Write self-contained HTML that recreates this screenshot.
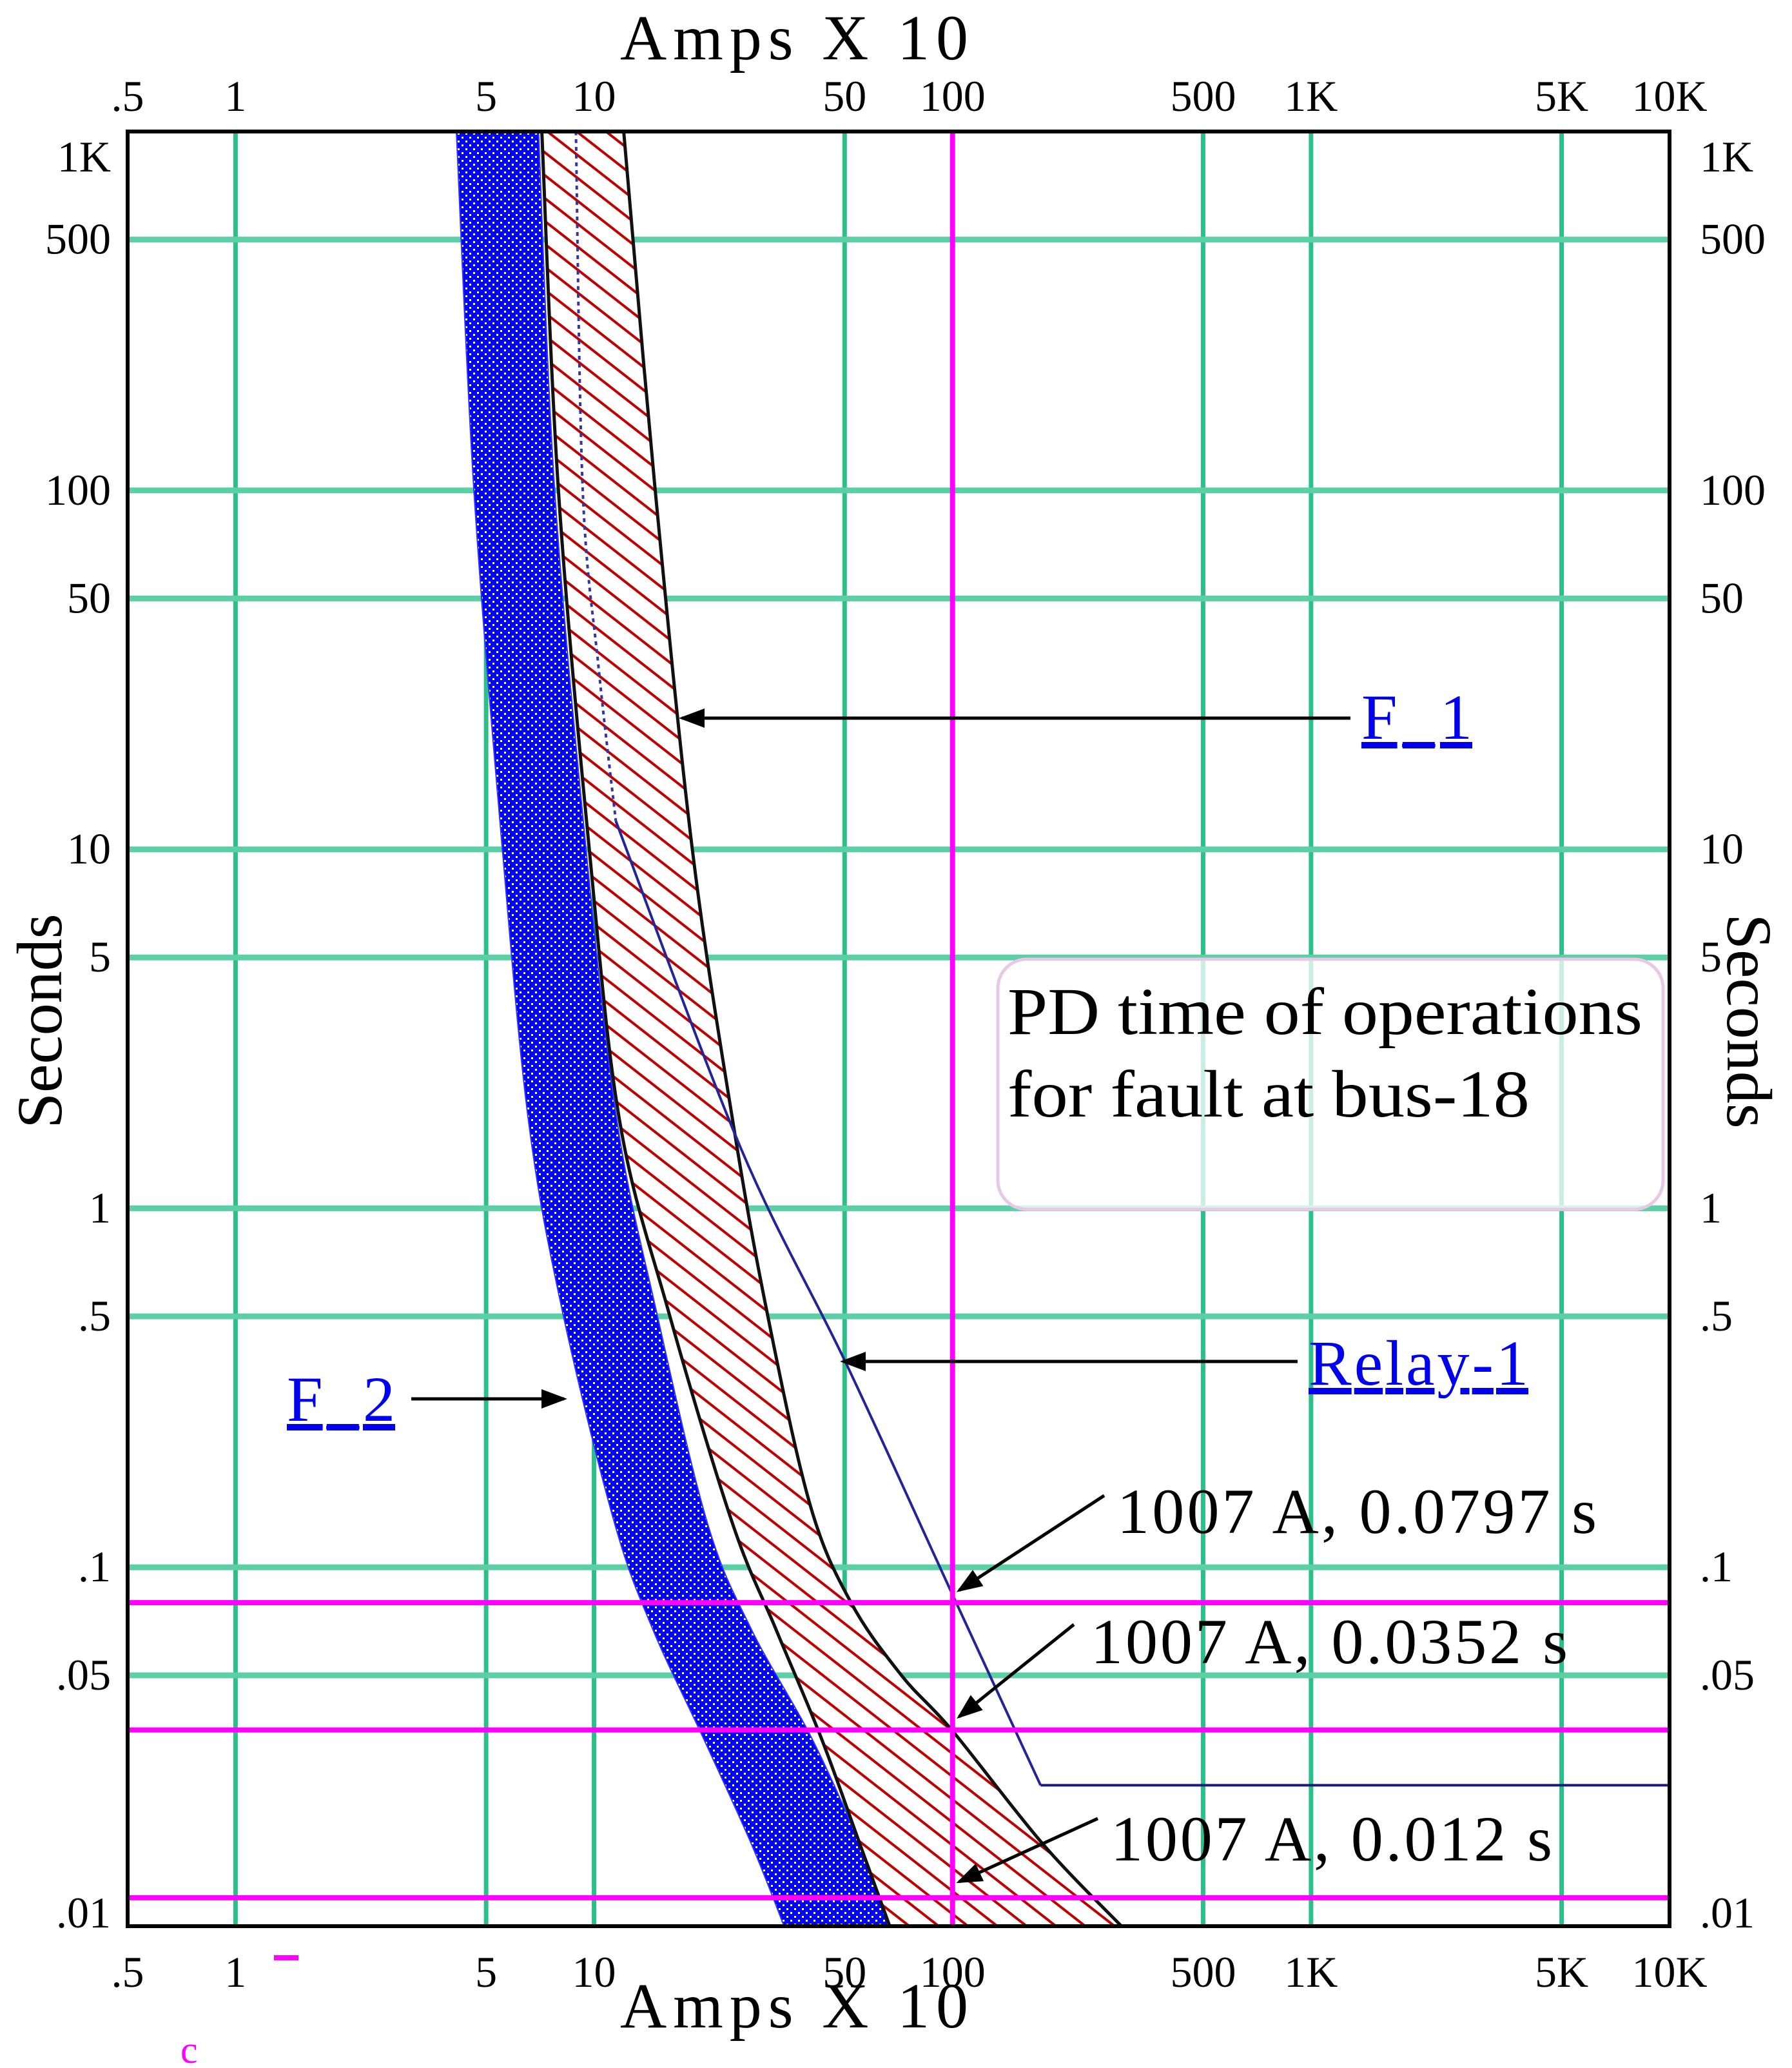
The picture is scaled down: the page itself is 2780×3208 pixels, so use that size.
<!DOCTYPE html>
<html><head><meta charset="utf-8"><style>
html,body{margin:0;padding:0;background:#fff;}
svg{display:block;}
text{font-family:"Liberation Serif",serif;}
</style></head><body>
<svg id="chart" width="2780" height="3208" viewBox="0 0 2780 3208" xmlns="http://www.w3.org/2000/svg">
<defs>
<pattern id="blueDots" width="12" height="12" patternUnits="userSpaceOnUse">
<rect width="12" height="12" fill="#0000ff"/>
<rect x="2" y="2" width="3" height="3" fill="#fff"/>
<rect x="8" y="8" width="3" height="3" fill="#fff"/>
</pattern>
<pattern id="redHatch" width="28" height="28" patternUnits="userSpaceOnUse" patternTransform="rotate(38)">
<rect width="28" height="28" fill="#fff"/>
<rect x="0" y="0" width="28" height="4" fill="#c00000"/>
</pattern>
<marker id="arr" markerWidth="8" markerHeight="8" refX="7" refY="4" orient="auto" markerUnits="strokeWidth">
<path d="M0,1 L8,4 L0,7 Z" fill="#000"/>
</marker>
</defs>
<g id="grid"></g>
<g id="bands"></g>
<g id="pink"></g>
<rect x="198" y="204" width="2392" height="2784" fill="none" stroke="#000" stroke-width="6"/>
<g id="ticks"></g>

<text x="962" y="92" font-size="100" textLength="540" lengthAdjust="spacing">Amps  X  10</text>
<text x="962" y="3145" font-size="100" textLength="540" lengthAdjust="spacing">Amps  X  10</text>
<text transform="translate(95,1584) rotate(-90)" text-anchor="middle" font-size="100">Seconds</text>
<text transform="translate(2680,1584) rotate(90)" text-anchor="middle" font-size="100">Seconds</text>

<g>
<rect x="1548" y="1488" width="1032" height="388" rx="45" fill="#fff" fill-opacity="0.75" stroke="#e8c8e8" stroke-width="5"/>
<text x="1563" y="1604" font-size="104" textLength="985" lengthAdjust="spacingAndGlyphs">PD time of operations</text>
<text x="1563" y="1732" font-size="104" textLength="810" lengthAdjust="spacingAndGlyphs">for fault at bus-18</text>
</g>

<g stroke="#000" stroke-width="5" fill="none">
<line x1="2095" y1="1114" x2="1058" y2="1114" marker-end="url(#arr)"/>
<line x1="2013" y1="2112" x2="1308" y2="2112" marker-end="url(#arr)"/>
<line x1="638" y1="2170" x2="875" y2="2170" marker-end="url(#arr)"/>
<line x1="1713" y1="2320" x2="1488" y2="2467" marker-end="url(#arr)"/>
<line x1="1666" y1="2520" x2="1488" y2="2663" marker-end="url(#arr)"/>
<line x1="1703" y1="2821" x2="1488" y2="2919" marker-end="url(#arr)"/>
</g>
<g font-size="100" fill="#0000ee">
<text x="2112" y="1146" text-decoration="underline" textLength="172" lengthAdjust="spacing">F_1</text>
<text x="2030" y="2148" text-decoration="underline" textLength="341" lengthAdjust="spacing">Relay-1</text>
<text x="445" y="2204" text-decoration="underline" textLength="168" lengthAdjust="spacing">F_2</text>
</g>
<g font-size="100" fill="#000">
<text x="1733" y="2378" textLength="744" lengthAdjust="spacing">1007 A, 0.0797 s</text>
<text x="1692" y="2580" textLength="740" lengthAdjust="spacing">1007 A, 0.0352 s</text>
<text x="1723" y="2886" textLength="685" lengthAdjust="spacing">1007 A, 0.012 s</text>
</g>
<rect x="425" y="3033" width="38" height="8" fill="#ff00ff"/>
<text x="280" y="3200" font-size="60" fill="#ff00ff">c</text>
</svg>
<script>
const xTickValues=[0.5,1,5,10,50,100,500,1000,5000,10000];
const xTickLabels=[".5","1","5","10","50","100","500","1K","5K","10K"];
const yTickValues=[0.01,0.05,0.1,0.5,1,5,10,50,100,500,1000];
const yTickLabels=[".01",".05",".1",".5","1","5","10","50","100","500","1K"];
const blueLeft=[[4.13,1000],[4.62,101],[5.55,10],[6.57,1.74],[8.15,0.52],[11.4,0.133],[14.6,0.067],[20.1,0.0337],[27.5,0.0169],[33.9,0.01]];
const blueRight=[[7.0,1000],[7.76,101],[9.5,10],[11.6,1.74],[14.9,0.52],[20.7,0.133],[27.5,0.067],[40.3,0.0337],[55.2,0.0169],[67.9,0.01]];
const f1Left=[[7.15,1000],[7.95,101],[9.7,10],[11.8,1.74],[16.1,0.52],[24.3,0.133],[32.2,0.067],[42.9,0.0337],[55.2,0.0169],[66.8,0.01]];
const f1Right=[[12.1,1000],[14.8,101],[18.8,10],[24.4,1.74],[30.3,0.52],[40,0.15],[52,0.08],[72,0.05],[100,0.035],[179,0.0169],[296,0.01]];
const relayDotted=[[8.9,1000],[9.3,100],[10.3,32],[11.5,12]];
const relayCurve=[[11.5,12],[25.6,1.48],[50.4,0.371],[97.8,0.088],[176,0.0247]];
const relayTail=[[176,0.0247],[10000,0.0247]];
const markerTimes=[0.0797,0.0352,0.012];
const markerAmps=[100];

const NS="http://www.w3.org/2000/svg";
const X0=198,X1=2590,Y0=2988,Y1=204;
function xs(v){return X0+(X1-X0)*(Math.log10(v)-Math.log10(0.5))/(Math.log10(10000)-Math.log10(0.5));}
function ys(v){return Y0-(Y0-Y1)*(Math.log10(v)-Math.log10(0.01))/(Math.log10(1000)-Math.log10(0.01));}
function mk(tag,attrs,parent){const e=document.createElementNS(NS,tag);for(const k in attrs)e.setAttribute(k,attrs[k]);parent.appendChild(e);return e;}
function pts(arr){return arr.map(p=>[xs(p[0]),ys(p[1])]);}
function smooth(P,start){let d=start?"M"+P[0][0]+","+P[0][1]:"L"+P[0][0]+","+P[0][1];
 for(let i=0;i<P.length-1;i++){const p0=P[Math.max(0,i-1)],p1=P[i],p2=P[i+1],p3=P[Math.min(P.length-1,i+2)];
 const c1=[p1[0]+(p2[0]-p0[0])/6,p1[1]+(p2[1]-p0[1])/6],c2=[p2[0]-(p3[0]-p1[0])/6,p2[1]-(p3[1]-p1[1])/6];
 d+=" C"+c1[0]+","+c1[1]+" "+c2[0]+","+c2[1]+" "+p2[0]+","+p2[1];}return d;}

const grid=document.getElementById('grid');
xTickValues.forEach((v,i)=>{if(i===0||i===xTickValues.length-1)return;
 const l=mk('line',{x1:xs(v),x2:xs(v),y1:Y1,y2:Y0,stroke:"#2cbf88","stroke-width":7},grid);
 
 });
yTickValues.forEach((v,i)=>{if(i===0||i===yTickValues.length-1)return;
 const l=mk('line',{x1:X0,x2:X1,y1:ys(v),y2:ys(v),stroke:"#5ccfa4","stroke-width":9},grid);
 
 });

const bands=document.getElementById('bands');
const bp=mk('path',{d:smooth(pts(blueLeft),true)+" "+smooth(pts(blueRight).reverse(),false)+"Z",fill:"url(#blueDots)",stroke:"#3030ff","stroke-width":2},bands);


const hp=mk('path',{d:smooth(pts(f1Left),true)+" "+smooth(pts(f1Right).reverse(),false)+"Z",fill:"url(#redHatch)",stroke:"none"},bands);


const l1=mk('path',{d:smooth(pts(f1Left),true),fill:"none",stroke:"#111","stroke-width":5},bands);


const l2=mk('path',{d:smooth(pts(f1Right),true),fill:"none",stroke:"#111","stroke-width":5},bands);


const rd=mk('path',{d:smooth(pts(relayDotted),true),fill:"none",stroke:"#3535a0","stroke-width":4,"stroke-dasharray":"6 6"},bands);


const rs=mk('path',{d:smooth(pts(relayCurve),true),fill:"none",stroke:"#23239a","stroke-width":4},bands);


const rt=mk('polyline',{points:pts(relayTail).map(p=>p.join(",")).join(" "),fill:"none",stroke:"#1a1a80","stroke-width":4},bands);



const pink=document.getElementById('pink');
markerTimes.forEach(t=>{const l=mk('line',{x1:X0,x2:X1,y1:ys(t),y2:ys(t),stroke:"#ff00ff","stroke-width":8},pink);
 
 });
markerAmps.forEach(a=>{const l=mk('line',{x1:xs(a),x2:xs(a),y1:Y1,y2:Y0,stroke:"#ff00ff","stroke-width":8},pink);
 
 });

const ticks=document.getElementById('ticks');
xTickValues.forEach((v,i)=>{[172,3082].forEach(y=>{
 const t=mk('text',{x:xs(v),y:y,"text-anchor":"middle","font-size":68},ticks);t.textContent=xTickLabels[i];
 
 });});
yTickValues.forEach((v,i)=>{
 let off=22; if(i===yTickValues.length-1) off=62; if(i===0) off=2;
 const t=mk('text',{x:172,y:ys(v)+off,"text-anchor":"end","font-size":68},ticks);t.textContent=yTickLabels[i];
 
 
 const r=mk('text',{x:2637,y:ys(v)+off,"text-anchor":"start","font-size":68},ticks);r.textContent=yTickLabels[i];
 
 });
</script>
</body></html>
